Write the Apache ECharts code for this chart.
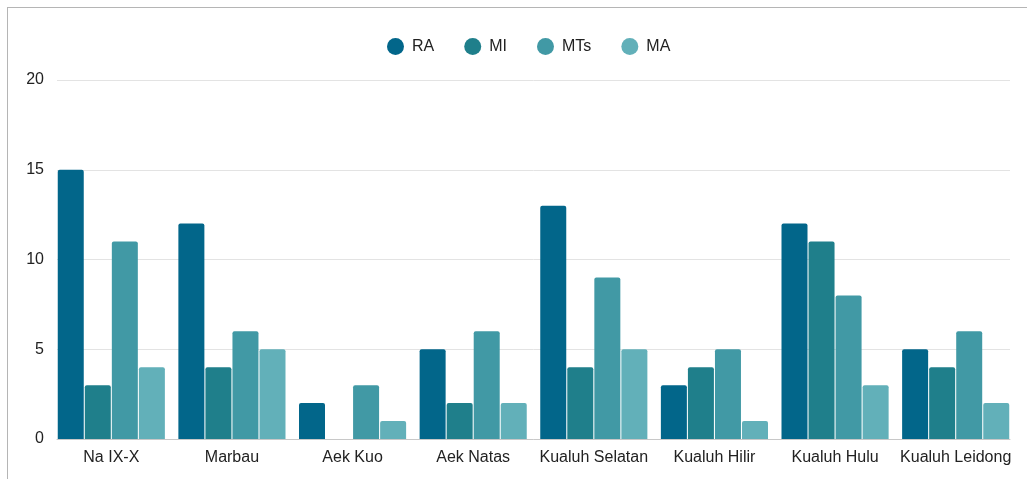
<!DOCTYPE html>
<html>
<head>
<meta charset="utf-8">
<script src="https://cdn.jsdelivr.net/npm/echarts@6/dist/echarts.min.js"></script>
<style>
  html, body { margin: 0; padding: 0; background: #fff; overflow: hidden; }
  #frame { position: absolute; left: 7px; top: 7px; width: 1040px; height: 500px;
           border: 1px solid #b5b5b5; box-sizing: border-box; }
  #chart { position: absolute; left: 0; top: 0; width: 1027px; height: 479px; }
</style>
</head>
<body>
<div id="frame"></div>
<div id="chart"></div>
<script>
// Schools per sub-district, by school type
const categories = ['Na IX-X', 'Marbau', 'Aek Kuo', 'Aek Natas', 'Kualuh Selatan', 'Kualuh Hilir', 'Kualuh Hulu', 'Kualuh Leidong'];
const seriesNames = ['RA', 'MI', 'MTs', 'MA'];
const raValues  = [15, 12, 2, 5, 13, 3, 12, 5];
const miValues  = [3, 4, 0, 2, 4, 4, 11, 4];
const mtsValues = [11, 6, 3, 6, 9, 5, 8, 6];
const maValues  = [4, 5, 1, 2, 5, 1, 3, 2];
const colors = ['#02668a', '#1f7f8b', '#4199a5', '#62b0b9'];

const font = 'Liberation Sans, Arial, sans-serif';
const allValues = [raValues, miValues, mtsValues, maValues];

const chart = echarts.init(document.getElementById('chart'), null, { renderer: 'canvas' });
chart.setOption({
  animation: false,
  color: colors,
  textStyle: { fontFamily: font },
  legend: {
    top: 38,
    left: 387,
    padding: 0,
    icon: 'circle',
    itemWidth: 23,
    itemHeight: 17,
    itemGap: 30,
    textStyle: { fontSize: 16, color: '#222', fontFamily: font },
    data: seriesNames
  },
  // grid 0: gridlines, baseline and value labels; grid 1: the bars
  grid: [
    { left: 57, right: 17, top: 80, bottom: 40 },
    { left: 51, right: 11, top: 80, bottom: 40 }
  ],
  xAxis: [
    {
      gridIndex: 0,
      type: 'category',
      data: categories,
      axisTick: { show: false },
      axisLabel: { show: false },
      axisLine: { lineStyle: { color: '#c8c8c8' } }
    },
    {
      gridIndex: 1,
      type: 'category',
      data: categories,
      axisTick: { show: false },
      axisLine: { show: false },
      axisLabel: { fontSize: 16, color: '#222', margin: 11, fontFamily: font, interval: 0 }
    }
  ],
  yAxis: [
    {
      gridIndex: 0,
      type: 'value',
      min: 0,
      max: 20,
      interval: 5,
      axisLine: { show: false },
      axisTick: { show: false },
      splitLine: { lineStyle: { color: '#e3e3e3' } },
      axisLabel: { fontSize: 16, color: '#222', margin: 13, fontFamily: font }
    },
    {
      gridIndex: 1,
      type: 'value',
      min: 0,
      max: 20,
      interval: 5,
      axisLine: { show: false },
      axisTick: { show: false },
      splitLine: { show: false },
      axisLabel: { show: false }
    }
  ],
  series: seriesNames.map((name, i) => ({
    name,
    type: 'bar',
    xAxisIndex: 1,
    yAxisIndex: 1,
    data: allValues[i],
    barWidth: 26,
    barGap: '4%',
    itemStyle: { borderRadius: [2, 2, 0, 0] }
  }))
});
</script>
</body>
</html>
